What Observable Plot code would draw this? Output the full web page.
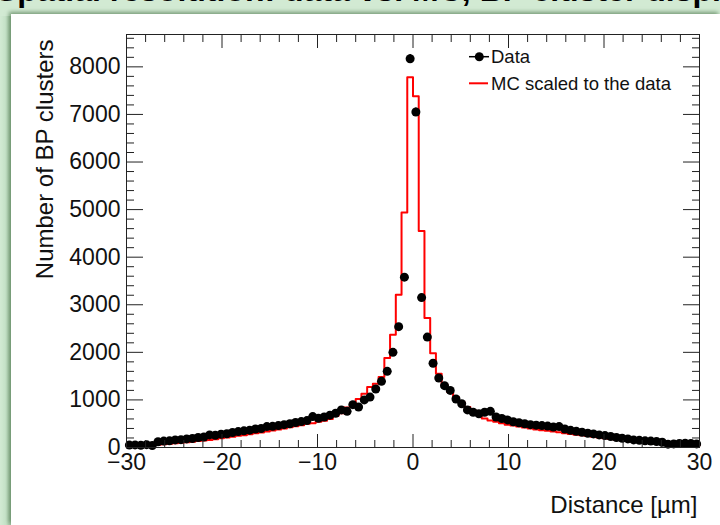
<!DOCTYPE html>
<html><head><meta charset="utf-8">
<script src="https://cdn.jsdelivr.net/npm/d3@7"></script>
<script src="https://cdn.jsdelivr.net/npm/@observablehq/plot@0.6"></script>
<style>
html,body{margin:0;padding:0;background:#fff;}
#page{position:relative;width:720px;height:525px;overflow:hidden;background:linear-gradient(to right,#d2ead3 0px,#c5e2c7 6px,#9ebf9f 11px);font-family:"Liberation Sans",Arial,Helvetica,sans-serif;}
#topstrip{position:absolute;left:0;top:0;width:720px;height:16px;background:#d2ead3;}
#title{position:absolute;left:-4px;top:-28px;font:bold 32px "Liberation Sans",Arial,sans-serif;white-space:nowrap;color:#000;}
#panel{position:absolute;left:11px;top:14px;right:0;bottom:0;background:#fff;box-shadow:-2px -2px 4px rgba(90,130,90,0.75);}
#chart{position:absolute;left:0;top:0;}
#legend{position:absolute;left:0;top:0;}
</style></head>
<body>
<div id="page">
  <div id="topstrip"></div>
  <div id="title">Spatial resolution: data vs. MC, BP cluster displacement</div>
  <div id="panel"></div>
  <div id="chart"></div>
  <svg id="legend" width="720" height="525"></svg>
</div>
<script>
// Histogram binning: 100 bins from -30 to 30 µm
const binStart = -30;
const binWidth = 0.6;

// Data counts per bin
const dataCounts = [
  50, 55, 45, 60, 40, 120, 135, 140, 160, 165,
  180, 190, 210, 220, 265, 255, 280, 290, 315, 335,
  350, 365, 390, 400, 440, 445, 460, 480, 500, 525,
  545, 565, 650, 615, 640, 680, 720, 790, 760, 900,
  850, 1000, 1060, 1230, 1390, 1600, 2000, 2540, 3580, 8170,
  7050, 3150, 2320, 1770, 1460, 1300, 1200, 1020, 920, 790,
  740, 710, 740, 760, 640, 610, 580, 540, 520, 500,
  480, 470, 460, 450, 430, 440, 390, 360, 340, 320,
  300, 285, 265, 250, 230, 210, 195, 180, 160, 150,
  140, 135, 125, 110, 70, 75, 85, 90, 85, 75
];

// MC (scaled to data) counts per bin
const mcCounts = [
  30, 32, 35, 35, 38, 60, 70, 80, 90, 100,
  110, 120, 135, 145, 160, 175, 195, 210, 225, 245,
  260, 280, 300, 315, 335, 355, 380, 400, 425, 445,
  470, 500, 510, 540, 560, 600, 660, 720, 840, 920,
  1020, 1130, 1270, 1340, 1480, 1880, 2370, 3210, 4940, 7780,
  7380, 4550, 2720, 1980, 1550, 1330, 1160, 1060, 950, 850,
  780, 680, 610, 570, 540, 510, 480, 460, 440, 420,
  400, 380, 365, 350, 335, 320, 300, 285, 270, 255,
  240, 225, 210, 195, 180, 165, 150, 140, 128, 118,
  108, 98, 88, 78, 70, 62, 55, 50, 45, 40
];

const seriesNames = ["Data", "MC scaled to the data"];
const xTitle = "Distance [µm]";
const yTitle = "Number of BP clusters";

const xMajor = [-30, -20, -10, 0, 10, 20, 30];
const xMinor = [-28, -26, -24, -22, -18, -16, -14, -12, -8, -6, -4, -2, 2, 4, 6, 8, 12, 14, 16, 18, 22, 24, 26, 28];
const yMajor = [0, 1000, 2000, 3000, 4000, 5000, 6000, 7000, 8000];
const yMinor = [200, 400, 600, 800, 1200, 1400, 1600, 1800, 2200, 2400, 2600, 2800, 3200, 3400, 3600, 3800,
  4200, 4400, 4600, 4800, 5200, 5400, 5600, 5800, 6200, 6400, 6600, 6800, 7200, 7400, 7600, 7800, 8200, 8400, 8600];

const dataRows = dataCounts.map((v, i) => {
  const lo = binStart + i * binWidth, hi = lo + binWidth;
  const e = Math.sqrt(v);
  return {lo, hi, c: (lo + hi) / 2, v, e1: v - e, e2: v + e};
});
const mcSteps = [];
mcCounts.forEach((v, i) => {
  const lo = binStart + i * binWidth;
  mcSteps.push({x: lo, y: v}, {x: lo + binWidth, y: v});
});

const font = '"Liberation Sans", Arial, Helvetica, sans-serif';
const axisColor = "#222";

const chart = Plot.plot({
  width: 720,
  height: 525,
  marginLeft: 126,
  marginRight: 21,
  marginTop: 34,
  marginBottom: 78,
  style: {background: "transparent", fontFamily: font, color: "#111", overflow: "visible"},
  x: {domain: [-30, 30]},
  y: {domain: [0, 8680]},
  marks: [
    Plot.line(mcSteps, {x: "x", y: "y", stroke: "#ff0000", strokeWidth: 2}),
    Plot.ruleY(dataRows, {y: "v", x1: "lo", x2: "hi", stroke: "#000", strokeWidth: 1.5}),
    Plot.ruleX(dataRows, {x: "c", y1: "e1", y2: "e2", stroke: "#000", strokeWidth: 1.5}),
    Plot.dot(dataRows, {x: "c", y: "v", r: 4.5, fill: "#000", stroke: "none"}),
    Plot.frame({stroke: axisColor, strokeWidth: 1}),
    Plot.axisX(xMajor, {anchor: "bottom", tickSize: -13, tickPadding: 19, fontSize: 23, label: null, stroke: axisColor}),
    Plot.axisX(xMinor, {anchor: "bottom", tickSize: -7, tickFormat: () => "", label: null, stroke: axisColor}),
    Plot.axisX(xMajor, {anchor: "top", tickSize: -13, tickFormat: () => "", label: null, stroke: axisColor}),
    Plot.axisX(xMinor, {anchor: "top", tickSize: -7, tickFormat: () => "", label: null, stroke: axisColor}),
    Plot.axisY(yMajor, {anchor: "left", tickSize: -17, tickPadding: 23, fontSize: 23, label: null, tickFormat: d => String(d), stroke: axisColor}),
    Plot.axisY(yMinor, {anchor: "left", tickSize: -8, tickFormat: () => "", label: null, stroke: axisColor}),
    Plot.axisY(yMajor, {anchor: "right", tickSize: -17, tickFormat: () => "", label: null, stroke: axisColor}),
    Plot.axisY(yMinor, {anchor: "right", tickSize: -8, tickFormat: () => "", label: null, stroke: axisColor}),
    Plot.text([xTitle], {text: d => d, frameAnchor: "bottom-right", dx: -2, dy: 65, textAnchor: "end", fontSize: 24}),
    Plot.text([yTitle], {text: d => d, frameAnchor: "top-left", dx: -91, dy: 5, rotate: -90, textAnchor: "end", fontSize: 24})
  ]
});
document.getElementById("chart").appendChild(chart);

// Legend
const lg = d3.select("#legend");
lg.append("line").attr("x1", 469).attr("x2", 489).attr("y1", 56.7).attr("y2", 56.7).attr("stroke", "#000").attr("stroke-width", 1.5);
lg.append("circle").attr("cx", 479.3).attr("cy", 56.7).attr("r", 4.5).attr("fill", "#000");
lg.append("text").attr("x", 491).attr("y", 56.7).attr("dy", "0.35em").attr("font-size", 18.5).attr("font-family", font).attr("fill", "#111").text(seriesNames[0]);
lg.append("line").attr("x1", 469).attr("x2", 488).attr("y1", 83.3).attr("y2", 83.3).attr("stroke", "#ff0000").attr("stroke-width", 2);
lg.append("text").attr("x", 491).attr("y", 83.3).attr("dy", "0.35em").attr("font-size", 18.5).attr("font-family", font).attr("fill", "#111").text(seriesNames[1]);
</script>
</body></html>
